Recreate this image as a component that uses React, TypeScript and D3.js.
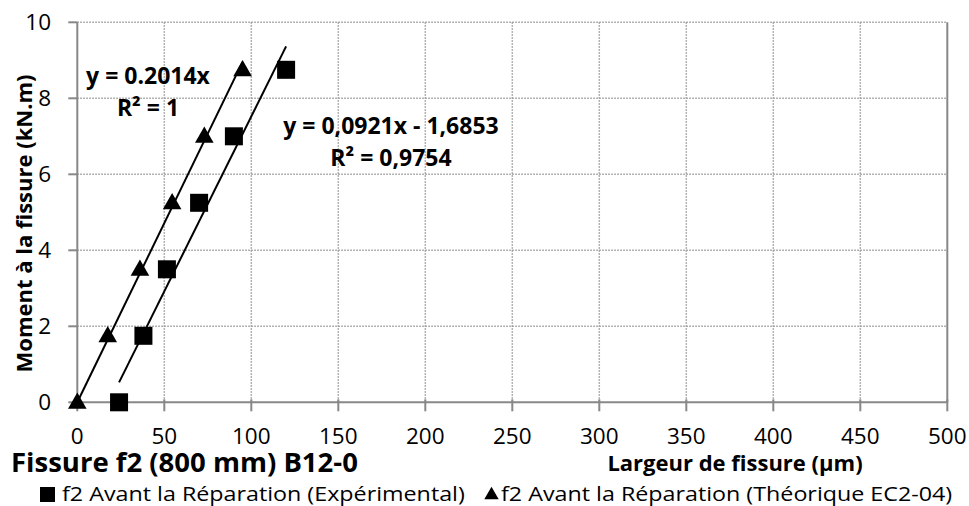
import React from "react";
import * as d3 from "d3";

const xTicks = [0, 50, 100, 150, 200, 250, 300, 350, 400, 450, 500];
const yTicks = [0, 2, 4, 6, 8, 10];

// f2 Avant la Réparation (Expérimental) — squares
const expX = [24, 38, 51.5, 70, 90, 120];
const expY = [0, 1.75, 3.5, 5.25, 7, 8.75];
// f2 Avant la Réparation (Théorique EC2-04) — triangles
const theoX = [0, 17.5, 36, 54.5, 73, 95];
const theoY = [0, 1.75, 3.5, 5.25, 7, 8.75];

const expTrend = { slope: 0.0921, intercept: -1.6853 };

const eqTheo = ["y = 0.2014x", "R² = 1"];
const eqExp = ["y = 0,0921x - 1,6853", "R² = 0,9754"];

const title = "Fissure f2 (800 mm) B12-0";
const xTitle = "Largeur de fissure (µm)";
const yTitle = "Moment à la fissure (kN.m)";
const legendLabels = [
  "f2 Avant la Réparation (Expérimental)",
  "f2 Avant la Réparation (Théorique EC2-04)",
];

const FONT = "'Open Sans', sans-serif";

export default function App() {
  const W = 969;
  const H = 506;
  const x = d3.scaleLinear().domain([0, 500]).range([77.3, 947.3]);
  const y = d3.scaleLinear().domain([0, 10]).range([402.3, 22.3]);

  // regression through origin for theoretical series
  const sxy = d3.sum(theoX.map((v, i) => v * theoY[i]));
  const sxx = d3.sum(theoX.map((v) => v * v));
  const theoSlope = sxy / sxx;

  const line = d3
    .line<[number, number]>()
    .x((d) => x(d[0]))
    .y((d) => y(d[1]));

  const expX0 = d3.min(expX)!;
  const expX1 = d3.max(expX)!;
  const expLine: [number, number][] = [
    [expX0, expTrend.slope * expX0 + expTrend.intercept],
    [expX1, expTrend.slope * expX1 + expTrend.intercept],
  ];
  const theoX1 = d3.max(theoX)!;
  const theoLine: [number, number][] = [
    [0, 0],
    [theoX1, theoSlope * theoX1],
  ];

  const sq = 18;
  const tri = d3.symbol().type(d3.symbolTriangle).size(150)();

  const gridColor = "#9a9a9a";
  const axisColor = "#888888";

  return (
    <svg
      width={W}
      height={H}
      style={{ position: "absolute", left: 0, top: 0, background: "#fff" }}
      fontFamily={FONT}
    >
      <rect x={0} y={0} width={W} height={H} fill="#fff" />
      {/* grid */}
      {xTicks.slice(1, -1).map((t) => (
        <line
          key={"gx" + t}
          x1={x(t)}
          x2={x(t)}
          y1={y(10)}
          y2={y(0)}
          stroke={gridColor}
          strokeWidth={1.5}
          strokeDasharray="1.5,1.5"
        />
      ))}
      {yTicks.slice(1).map((t) => (
        <line
          key={"gy" + t}
          x1={x(0)}
          x2={x(500)}
          y1={y(t)}
          y2={y(t)}
          stroke={gridColor}
          strokeWidth={1.5}
          strokeDasharray="1.5,1.5"
        />
      ))}
      {/* axes */}
      <line x1={x(0)} x2={x(500)} y1={y(0)} y2={y(0)} stroke={axisColor} strokeWidth={2} />
      <line x1={x(0)} x2={x(0)} y1={y(0)} y2={y(10)} stroke={axisColor} strokeWidth={2} />
      <line x1={x(500)} x2={x(500)} y1={y(0)} y2={y(10)} stroke={axisColor} strokeWidth={2} />
      {xTicks.map((t) => (
        <line key={"tx" + t} x1={x(t)} x2={x(t)} y1={y(0) - 3} y2={y(0) + 9} stroke={axisColor} strokeWidth={2} />
      ))}
      {yTicks.map((t) => (
        <line key={"ty" + t} x1={x(0) - 9} x2={x(0)} y1={y(t)} y2={y(t)} stroke={axisColor} strokeWidth={2} />
      ))}
      {/* tick labels */}
      {xTicks.map((t) => (
        <text key={"lx" + t} x={x(t)} y={444} textAnchor="middle" fontSize={22.5} fill="#000">
          {t}
        </text>
      ))}
      {yTicks.map((t) => (
        <text key={"ly" + t} x={51} y={y(t) + 8} textAnchor="end" fontSize={22.5} fill="#000">
          {t}
        </text>
      ))}
      {/* trend lines */}
      <path d={line(theoLine)!} stroke="#000" strokeWidth={2} fill="none" />
      <path d={line(expLine)!} stroke="#000" strokeWidth={2} fill="none" />
      {/* markers */}
      {expX.map((v, i) => (
        <rect key={"s" + i} x={x(v) - sq / 2} y={y(expY[i]) - sq / 2} width={sq} height={sq} fill="#000" />
      ))}
      {theoX.map((v, i) => (
        <path key={"t" + i} d={tri!} transform={`translate(${x(v)},${y(theoY[i]) + 1})`} fill="#000" />
      ))}
      {/* equations */}
      <text x={148} y={84} textAnchor="middle" fontSize={23} fontWeight="bold">{eqTheo[0]}</text>
      <text x={148} y={116} textAnchor="middle" fontSize={23} fontWeight="bold">{eqTheo[1]}</text>
      <text x={391} y={134} textAnchor="middle" fontSize={23} fontWeight="bold">{eqExp[0]}</text>
      <text x={391} y={166} textAnchor="middle" fontSize={23} fontWeight="bold">{eqExp[1]}</text>
      {/* titles */}
      <text x={11} y={472} fontSize={27.5} fontWeight="bold">{title}</text>
      <text x={735} y={471} textAnchor="middle" fontSize={22} fontWeight="bold">{xTitle}</text>
      <text
        transform={`translate(32,${223.5}) rotate(-90)`}
        textAnchor="middle"
        fontSize={22}
        fontWeight="bold"
      >
        {yTitle}
      </text>
      {/* legend */}
      <rect x={40} y={487} width={15} height={15} fill="#000" />
      <text transform="translate(62,501) scale(1.17,1)" fontSize={19.9}>{legendLabels[0]}</text>
      <path d={d3.symbol().type(d3.symbolTriangle).size(90)()!} transform="translate(491.5,495)" fill="#000" />
      <text transform="translate(501,501) scale(1.17,1)" fontSize={19.9}>{legendLabels[1]}</text>
    </svg>
  );
}
